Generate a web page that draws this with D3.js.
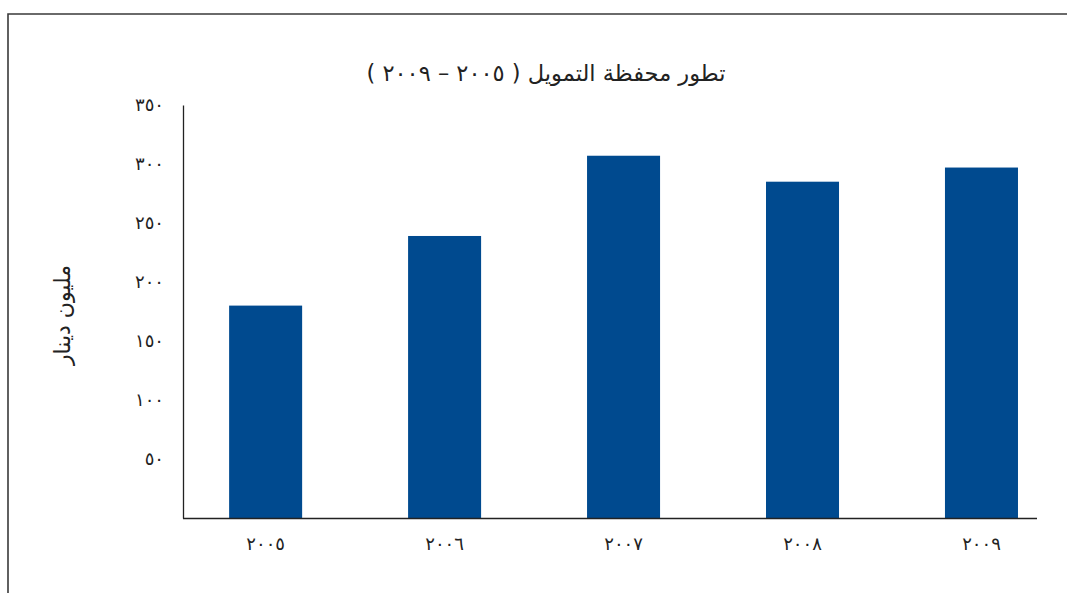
<!DOCTYPE html>
<html lang="ar">
<head>
<meta charset="utf-8">
<script src="https://cdn.jsdelivr.net/npm/d3@7/dist/d3.min.js"></script>
<style>
  html, body { margin: 0; padding: 0; background: #fff; }
  svg { display: block; }
  text { font-family: "DejaVu Sans", "Noto Sans", sans-serif; fill: #222; }
</style>
</head>
<body>
<svg id="chart" width="1067" height="593"></svg>
<script>
// Financing portfolio, million dinars, 2005–2009
const years = ["٢٠٠٥", "٢٠٠٦", "٢٠٠٧", "٢٠٠٨", "٢٠٠٩"];
const values = [180, 239, 307, 285, 297];
const yTickValues = [50, 100, 150, 200, 250, 300, 350];
const yTickLabels = ["٥٠", "١٠٠", "١٥٠", "٢٠٠", "٢٥٠", "٣٠٠", "٣٥٠"];
const titleText = "تطور محفظة التمويل ( ٢٠٠٥ – ٢٠٠٩ )";
const yAxisTitle = "مليون دينار";

const svg = d3.select("#chart");
const W = 1067, H = 593;

// frame lines along the top and left edges
svg.append("path")
  .attr("d", `M8,${H} L8,14 L${W},14`)
  .attr("fill", "none")
  .attr("stroke", "#3a3a3a")
  .attr("stroke-width", 1.6);

const plot = { left: 183, right: 1037, top: 105, bottom: 518 };

const x = d3.scaleBand()
  .domain(years)
  .range([plot.left, plot.right])
  .paddingInner(0.592)
  .paddingOuter(0.182)
  .align(0.708);

const y = d3.scaleLinear()
  .domain([0, 350])
  .range([plot.bottom, plot.top]);

// bars
svg.append("g").selectAll("rect")
  .data(values)
  .join("rect")
  .attr("x", (d, i) => x(years[i]))
  .attr("y", d => y(d))
  .attr("width", x.bandwidth())
  .attr("height", d => y(0) - y(d))
  .attr("fill", "#004a8f");

// y axis
const yAxis = svg.append("g")
  .attr("transform", `translate(${plot.left},0)`)
  .call(d3.axisLeft(y)
    .tickValues(yTickValues)
    .tickFormat((d, i) => yTickLabels[i])
    .tickSize(0)
    .tickPadding(19));
yAxis.select(".domain").attr("stroke", "#222").attr("stroke-width", 1.3);
yAxis.selectAll("text")
  .attr("font-size", 18)
  .attr("dy", "0.28em")
  .style("font-family", '"DejaVu Sans", sans-serif')
  .attr("fill", "#222");

// x axis
const xAxis = svg.append("g")
  .attr("transform", `translate(0,${plot.bottom})`)
  .call(d3.axisBottom(x).tickSize(0).tickPadding(19));
xAxis.select(".domain")
  .attr("d", `M${plot.left},0.5H${plot.right}`)
  .attr("stroke", "#222").attr("stroke-width", 1.3);
xAxis.selectAll("text")
  .attr("font-size", 18)
  .style("font-family", '"DejaVu Sans", sans-serif')
  .attr("fill", "#222");

// title
svg.append("text")
  .attr("x", 546)
  .attr("y", 81)
  .attr("text-anchor", "middle")
  .attr("direction", "rtl")
  .attr("font-size", 22.5)
  .text(titleText);

// y axis title
svg.append("text")
  .attr("transform", "translate(70,315) rotate(-90)")
  .attr("text-anchor", "middle")
  .attr("direction", "rtl")
  .attr("font-size", 22)
  .text(yAxisTitle);
</script>
</body>
</html>
